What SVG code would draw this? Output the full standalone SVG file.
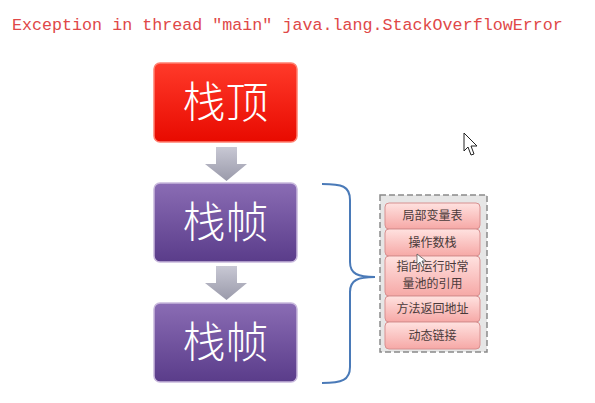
<svg xmlns="http://www.w3.org/2000/svg" width="595" height="403" viewBox="0 0 595 403">
<defs>
<linearGradient id="gRed" x1="0" y1="0" x2="0" y2="1"><stop offset="0" stop-color="#ff3a2a"/><stop offset="1" stop-color="#e80a00"/></linearGradient>
<linearGradient id="gPur" x1="0" y1="0" x2="0" y2="1"><stop offset="0" stop-color="#8a6cb4"/><stop offset="1" stop-color="#5a3c8a"/></linearGradient>
<linearGradient id="gPink" x1="0" y1="0" x2="0" y2="1"><stop offset="0" stop-color="#ffe2e0"/><stop offset="1" stop-color="#f6a8a6"/></linearGradient>
<linearGradient id="gArr" x1="0" y1="0" x2="0" y2="1"><stop offset="0" stop-color="#c8c8d4"/><stop offset="1" stop-color="#9a9aaa"/></linearGradient>
<style>
.big{font-family:"Noto Sans CJK SC",sans-serif;font-size:43px;font-weight:300;fill:#ffffff;text-anchor:middle}
.sm{font-family:"Noto Sans CJK SC",sans-serif;font-size:12px;fill:#4a3a3a;text-anchor:middle}
.pink{fill:url(#gPink);stroke:#d89090;stroke-width:1}
.box{stroke:#c8b8dc;stroke-width:1.5}
</style>
</defs>
<rect width="595" height="403" fill="#ffffff"/>
<text x="12" y="30" font-family="Liberation Mono, monospace" font-size="16.7" fill="#e04848">Exception in thread "main" java.lang.StackOverflowError</text>

<g id="connectors">
<path d="M216 147 H237 V164 H247 L226.5 181 L205 164 H216 Z" fill="url(#gArr)"/>
<path d="M216 266 H237 V283 H247 L226.5 300 L205 283 H216 Z" fill="url(#gArr)"/>
<path d="M322 184 C342 184 350 186 350 200 V262 C350 274 358 277 375 277 C358 277 350 280 350 292 V367 C350 380 342 383 322 383" fill="none" stroke="#4a7ab8" stroke-width="2"/>
</g>

<g id="top">
<rect x="154" y="63" width="143" height="79" rx="6" fill="url(#gRed)" stroke="#ff8070" stroke-width="1.5"/>
<text class="big" x="225.5" y="118">栈顶</text>
</g>
<g id="frame1">
<rect class="box" x="154" y="183" width="143" height="79" rx="6" fill="url(#gPur)"/>
<text class="big" x="225.5" y="238">栈帧</text>
</g>
<g id="frame2">
<rect class="box" x="154" y="303" width="143" height="79" rx="6" fill="url(#gPur)"/>
<text class="big" x="225.5" y="358">栈帧</text>
</g>

<g id="detail">
<rect x="380" y="195" width="107" height="157" fill="#e6e6e6" stroke="#8a8a8a" stroke-width="1.5" stroke-dasharray="6,3"/>
<g id="d1"><rect class="pink" x="385" y="203" width="95" height="26" rx="4"/><text class="sm" x="432.5" y="220">局部变量表</text></g>
<g id="d2"><rect class="pink" x="385" y="229" width="95" height="27" rx="4"/><text class="sm" x="432.5" y="247">操作数栈</text></g>
<g id="d3"><rect class="pink" x="385" y="256" width="95" height="40" rx="4"/><text class="sm" x="432.5" y="271" font-size="11.5">指向运行时常</text><text class="sm" x="432.5" y="288" font-size="11.5">量池的引用</text></g>
<g id="d4"><rect class="pink" x="385" y="296" width="95" height="26" rx="4"/><text class="sm" x="432.5" y="313">方法返回地址</text></g>
<g id="d5"><rect class="pink" x="385" y="322" width="95" height="27" rx="4"/><text class="sm" x="432.5" y="340">动态链接</text></g>
</g>

<path d="M464 133 V151 L468 147 L471 155 L474 154 L471 146 L477 146 Z" fill="#ffffff" stroke="#222" stroke-width="1"/>
<path d="M417 254 V265 L420 262 L422 267 L424 266 L422 261 L426 261 Z" fill="#ffffff" stroke="#555" stroke-width="0.8"/>
</svg>
